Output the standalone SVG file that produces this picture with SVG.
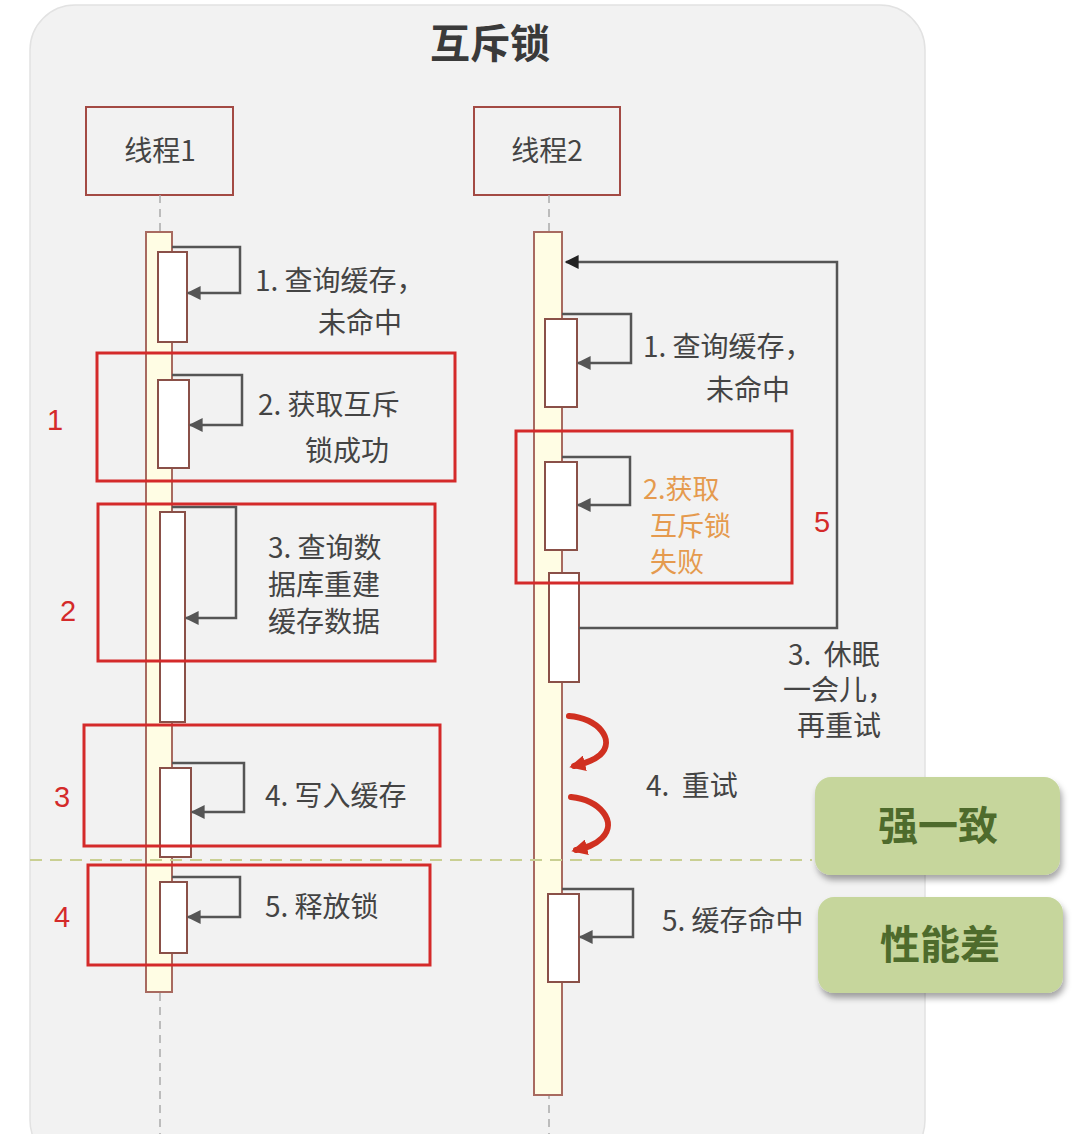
<svg xmlns="http://www.w3.org/2000/svg" width="1078" height="1134" viewBox="0 0 1078 1134">
<style>
.t{font-family:"Noto Sans CJK SC","Noto Sans",sans-serif;fill:#444;font-size:28px;white-space:pre}
.o{font-family:"Noto Sans CJK SC","Noto Sans",sans-serif;fill:#e59a4e;font-size:27px}
.red{font-family:"Liberation Sans",Arial,sans-serif;fill:#d42a2a;font-size:29px}
.hd{fill:none;stroke:#a34a44;stroke-width:2}
.life{stroke:#aaa;stroke-width:1.5;stroke-dasharray:8,6}
.bar{fill:#fffde4;stroke:#a86a60;stroke-width:2}
.act{fill:#fff;stroke:#8a5048;stroke-width:2}
.lp{fill:none;stroke:#555;stroke-width:2.5}
.ann{fill:none;stroke:#d42a2a;stroke-width:3}
.gb{fill:#c6d69c;filter:url(#sh)}
.gt{font-family:"Noto Sans CJK SC","Noto Sans",sans-serif;fill:#4e6b2c;font-size:40px;font-weight:bold}
.ra{fill:none;stroke:#d03020;stroke-width:6;stroke-linecap:round}
</style>
<defs>
<marker id="ahg" viewBox="0 0 10 10" refX="9" refY="5" markerWidth="16" markerHeight="14" orient="auto" markerUnits="userSpaceOnUse">
<path d="M0,0 L10,5 L0,10 z" fill="#555"/>
</marker>
<marker id="ahk" viewBox="0 0 10 10" refX="9" refY="5" markerWidth="16" markerHeight="14" orient="auto" markerUnits="userSpaceOnUse">
<path d="M0,0 L10,5 L0,10 z" fill="#222"/>
</marker>
<marker id="ahr" viewBox="0 0 10 10" refX="7" refY="5" markerWidth="16" markerHeight="16" orient="auto" markerUnits="userSpaceOnUse">
<path d="M0,0 L10,5 L0,10 z" fill="#d03020"/>
</marker>
<filter id="sh" x="-10%" y="-10%" width="125%" height="135%">
<feDropShadow dx="2" dy="5" stdDeviation="3" flood-color="#000" flood-opacity="0.35"/>
</filter>
</defs>
<rect width="1078" height="1134" fill="#fff"/>
<rect x="30" y="5" width="895" height="1160" rx="45" fill="#f2f2f2" stroke="#e2e2e2" stroke-width="1.5"/>
<text x="490" y="58" text-anchor="middle" font-family="Noto Sans CJK SC, sans-serif" font-size="40" font-weight="bold" fill="#3a3a3a">互斥锁</text>

<g id="thread1">
<rect class="hd" x="86" y="107" width="147" height="88"/>
<text class="t" x="160" y="161" text-anchor="middle" font-size="27">线程1</text>
<line class="life" x1="160" y1="195" x2="160" y2="1134"/>
<rect class="bar" x="146" y="232" width="26" height="760"/>
</g>
<g id="thread2">
<rect class="hd" x="474" y="107" width="146" height="88"/>
<text class="t" x="547" y="161" text-anchor="middle" font-size="27">线程2</text>
<line class="life" x1="549" y1="195" x2="549" y2="1134"/>
<rect class="bar" x="534" y="232" width="28" height="863"/>
</g>

<g id="t1-activations">
<rect class="act" x="158" y="252" width="29" height="90"/>
<rect class="act" x="158" y="380" width="31" height="88"/>
<rect class="act" x="160" y="512" width="25" height="210"/>
<rect class="act" x="160" y="768" width="31" height="89"/>
<rect class="act" x="160" y="882" width="27" height="71"/>
</g>
<g id="t2-activations">
<rect class="act" x="545" y="319" width="32" height="88"/>
<rect class="act" x="545" y="462" width="32" height="88"/>
<rect class="act" x="549" y="573" width="30" height="109"/>
<rect class="act" x="548" y="894" width="31" height="88"/>
</g>

<g id="connectors">
<path class="lp" marker-end="url(#ahg)" d="M172,247 H240 V293 H188"/>
<path class="lp" marker-end="url(#ahg)" d="M172,375 H242 V425 H190"/>
<path class="lp" marker-end="url(#ahg)" d="M172,507 H236 V618 H186"/>
<path class="lp" marker-end="url(#ahg)" d="M172,763 H244 V812 H192"/>
<path class="lp" marker-end="url(#ahg)" d="M172,877 H240 V917 H188"/>
<path class="lp" marker-end="url(#ahg)" d="M562,314 H631 V363 H578"/>
<path class="lp" marker-end="url(#ahg)" d="M562,457 H630 V505 H578"/>
<path class="lp" marker-end="url(#ahk)" stroke="#333" d="M579,628 H837 V262 H566"/>
<path class="lp" marker-end="url(#ahg)" d="M562,889 H633 V937 H580"/>
<path class="ra" marker-end="url(#ahr)" d="M569,716 C598,718 616,740 600,755 C592,762 582,764 574,766"/>
<path class="ra" marker-end="url(#ahr)" d="M571,797 C600,800 618,822 602,838 C594,846 584,848 576,850"/>
</g>

<g id="labels-t1">
<text class="t" x="255" y="291">1. 查询缓存，</text>
<text class="t" x="318" y="333">未命中</text>
<text class="t" x="258" y="415">2. 获取互斥</text>
<text class="t" x="305" y="461">锁成功</text>
<text class="t" x="268" y="558">3. 查询数</text>
<text class="t" x="268" y="595">据库重建</text>
<text class="t" x="268" y="632">缓存数据</text>
<text class="t" x="265" y="806">4. 写入缓存</text>
<text class="t" x="265" y="917">5. 释放锁</text>
</g>
<g id="labels-t2">
<text class="t" x="643" y="357">1. 查询缓存，</text>
<text class="t" x="706" y="400">未命中</text>
<text class="o" x="643" y="499">2.获取</text>
<text class="o" x="650" y="536">互斥锁</text>
<text class="o" x="650" y="572">失败</text>
<text class="t" x="788" y="665" font-size="27" xml:space="preserve">3.  休眠</text>
<text class="t" x="783" y="700" font-size="27">一会儿，</text>
<text class="t" x="797" y="736" font-size="27">再重试</text>
<text class="t" x="646" y="796" xml:space="preserve">4.  重试</text>
<text class="t" x="662" y="931">5. 缓存命中</text>
</g>

<line x1="30" y1="860" x2="812" y2="860" stroke="#c9cf92" stroke-width="2" stroke-dasharray="12,8"/>

<g id="green1">
<rect class="gb" x="815" y="777" width="245" height="98" rx="16"/>
<text class="gt" x="938" y="840" text-anchor="middle">强一致</text>
</g>
<g id="green2">
<rect class="gb" x="818" y="897" width="245" height="96" rx="16"/>
<text class="gt" x="940" y="959" text-anchor="middle">性能差</text>
</g>

<g id="annotations">
<rect class="ann" x="97" y="353" width="358" height="128"/>
<text class="red" x="55" y="430" text-anchor="middle">1</text>
<rect class="ann" x="98" y="504" width="337" height="157"/>
<text class="red" x="68" y="621" text-anchor="middle">2</text>
<rect class="ann" x="84" y="725" width="356" height="121"/>
<text class="red" x="62" y="807" text-anchor="middle">3</text>
<rect class="ann" x="88" y="865" width="342" height="100"/>
<text class="red" x="62" y="927" text-anchor="middle">4</text>
<rect class="ann" x="516" y="431" width="276" height="152"/>
<text class="red" x="822" y="532" text-anchor="middle">5</text>
</g>
</svg>
